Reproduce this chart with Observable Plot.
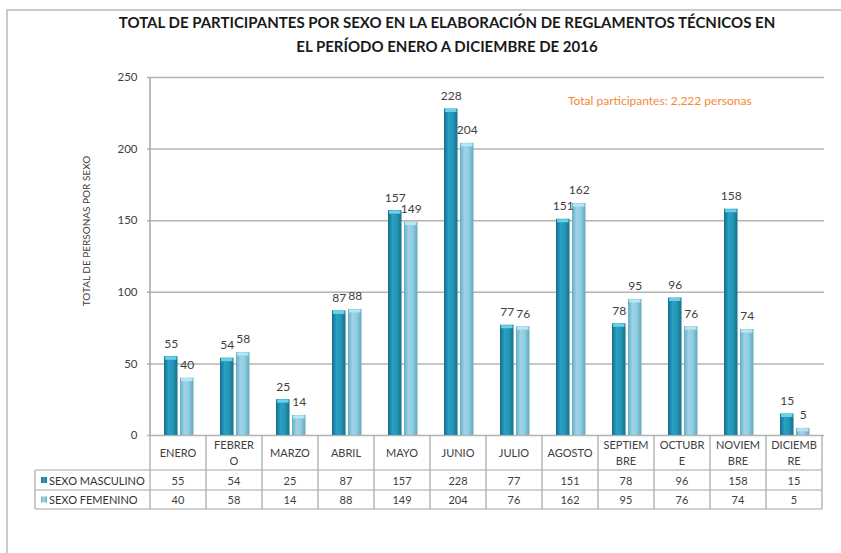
<!DOCTYPE html>
<html><head><meta charset="utf-8">
<script src="https://cdn.jsdelivr.net/npm/d3@7"></script>
<script src="https://cdn.jsdelivr.net/npm/@observablehq/plot@0.6"></script>
<style>
body{margin:0;background:#fff;}
#wrap{position:relative;width:841px;height:553px;overflow:hidden;background:#fff;}
#border{position:absolute;left:6px;top:9px;width:900px;height:600px;border-top:2px solid #cacaca;border-left:2px solid #cacaca;}
#wrap svg{position:absolute;left:0;top:0;}
</style></head><body><div id="wrap"><div id="border"></div></div>
<script>
const months = ["ENERO","FEBRERO","MARZO","ABRIL","MAYO","JUNIO","JULIO","AGOSTO","SEPTIEMBRE","OCTUBRE","NOVIEMBRE","DICIEMBRE"];
const monthLines = [["ENERO"],["FEBRER","O"],["MARZO"],["ABRIL"],["MAYO"],["JUNIO"],["JULIO"],["AGOSTO"],["SEPTIEM","BRE"],["OCTUBR","E"],["NOVIEM","BRE"],["DICIEMB","RE"]];
const masculino = [55,54,25,87,157,228,77,151,78,96,158,15];
const femenino = [40,58,14,88,149,204,76,162,95,76,74,5];
const seriesNames = ["SEXO MASCULINO","SEXO FEMENINO"];
const yTicks = [0,50,100,150,200,250];
const titleLines = ["TOTAL DE PARTICIPANTES POR SEXO EN LA ELABORACIÓN DE REGLAMENTOS TÉCNICOS EN","EL PERÍODO ENERO A DICIEMBRE DE 2016"];
const yLabel = "TOTAL DE PERSONAS POR SEXO";
const note = "Total participantes: 2,222 personas";

const rows = months.map((m, i) => ({month: m, masc: masculino[i], fem: femenino[i]}));
const font = "Lato, 'Open Sans', sans-serif";
const txt = "#404040";

const plot = Plot.plot({
  width: 841, height: 553,
  marginTop: 77, marginBottom: 118, marginLeft: 147, marginRight: 17,
  style: {fontFamily: font, background: "transparent", color: txt, overflow: "visible"},
  x: {domain: months, padding: 0, axis: null},
  y: {domain: [0, 250], ticks: yTicks, tickSize: 0, tickPadding: 10, label: null, tickFormat: d => String(d)},
  marks: [
    Plot.ruleY(yTicks, {stroke: "#b4b4b4", strokeWidth: 1.5}),
    Plot.barY(rows, {x: "month", y: "masc", fill: "url(#gm)", insetLeft: 14, insetRight: 28.5}),
    Plot.barY(rows, {x: "month", y: "fem", fill: "url(#gf)", insetLeft: 30, insetRight: 12.5}),
    Plot.tickY(rows, {x: "month", y: "masc", stroke: "#6ad2e8", strokeWidth: 3, insetLeft: 15, insetRight: 29.5, dy: 1.5}),
    Plot.tickY(rows, {x: "month", y: "fem", stroke: "#b6e6f2", strokeWidth: 3, insetLeft: 31, insetRight: 13.5, dy: 1.5}),
    Plot.text(rows, {x: "month", y: "masc", text: d => String(d.masc), dx: -7.2, dy: -13, fontSize: 12, fill: txt}),
    Plot.text(rows, {x: "month", y: "fem", text: d => String(d.fem), dx: 8.8, dy: -13, fontSize: 12, fill: txt})
  ]
});

const wrap = document.getElementById("wrap");
wrap.appendChild(plot);
const svg = d3.select(plot);
svg.attr("font-size", 11.5);

// gradients
const defs = svg.insert("defs", ":first-child");
const gm = defs.append("linearGradient").attr("id", "gm").attr("x1", 0).attr("x2", 1).attr("y1", 0).attr("y2", 0);
[["0%", "#136f8c"], ["35%", "#28a2c4"], ["65%", "#2596b7"], ["100%", "#136f8c"]].forEach(([o, c]) => gm.append("stop").attr("offset", o).attr("stop-color", c));
const gf = defs.append("linearGradient").attr("id", "gf").attr("x1", 0).attr("x2", 1).attr("y1", 0).attr("y2", 0);
[["0%", "#66acc5"], ["35%", "#9dd5e8"], ["65%", "#90cbe0"], ["100%", "#65a8c0"]].forEach(([o, c]) => gf.append("stop").attr("offset", o).attr("stop-color", c));

const x = plot.scale("x");
const y = plot.scale("y");
const bw = x.bandwidth;
const x0 = x.apply(months[0]);
const x1 = x.apply(months[months.length - 1]) + bw;
const y0 = y.apply(0);
const yTop = y.apply(250);
const g = svg.append("g").attr("font-family", font).attr("text-anchor", "start");
const lineC = "#a6a6a6";

// left axis line
g.append("line").attr("x1", x0).attr("x2", x0).attr("y1", yTop).attr("y2", y0).attr("stroke", lineC).attr("stroke-width", 1.5);

// title
titleLines.forEach((t, i) => g.append("text").attr("x", 447).attr("y", 22 + i * 24).attr("text-anchor", "middle")
  .attr("dominant-baseline", "central").attr("font-weight", "bold").attr("font-size", 15).attr("fill", "#1a1a1a").text(t));

// y label
g.append("text").attr("transform", `translate(86,${231}) rotate(-90)`).attr("text-anchor", "middle")
  .attr("dominant-baseline", "central").attr("font-size", 10).attr("fill", txt).text(yLabel);

// note
g.append("text").attr("x", 568).attr("y", 100).attr("text-anchor", "start").attr("dominant-baseline", "central").attr("font-size", 12)
  .attr("fill", "#f28a3a").text(note);

// table
const rCat = 470, rM = 490, rF = 509, lx = 35;
const hl = (yy, xa) => g.append("line").attr("x1", xa).attr("x2", x1).attr("y1", yy).attr("y2", yy).attr("stroke", lineC).attr("stroke-width", 1.2);
hl(rCat, lx); hl(rM, lx); hl(rF, lx);
g.append("line").attr("x1", lx).attr("x2", lx).attr("y1", rCat).attr("y2", rF).attr("stroke", lineC).attr("stroke-width", 1.2);
months.forEach((m, i) => {
  const xs = x.apply(m);
  g.append("line").attr("x1", xs).attr("x2", xs).attr("y1", y0).attr("y2", rF).attr("stroke", lineC).attr("stroke-width", 1.2);
  const cx = xs + bw / 2;
  const ls = monthLines[i];
  ls.forEach((l, j) => g.append("text").attr("x", cx).attr("y", ls.length === 1 ? 452 : 444 + j * 16)
    .attr("text-anchor", "middle").attr("dominant-baseline", "central").attr("font-size", 11).attr("fill", txt).text(l));
  g.append("text").attr("x", cx).attr("y", (rCat + rM) / 2).attr("text-anchor", "middle").attr("dominant-baseline", "central")
    .attr("font-size", 11).attr("fill", txt).text(String(masculino[i]));
  g.append("text").attr("x", cx).attr("y", (rM + rF) / 2).attr("text-anchor", "middle").attr("dominant-baseline", "central")
    .attr("font-size", 11).attr("fill", txt).text(String(femenino[i]));
});
g.append("line").attr("x1", x1).attr("x2", x1).attr("y1", y0).attr("y2", rF).attr("stroke", lineC).attr("stroke-width", 1.2);
// legend keys
seriesNames.forEach((s, i) => {
  const cy = i === 0 ? (rCat + rM) / 2 : (rM + rF) / 2;
  g.append("rect").attr("x", 41).attr("y", cy - 3).attr("width", 6).attr("height", 6).attr("fill", i === 0 ? "url(#gm)" : "url(#gf)");
  g.append("text").attr("x", 49).attr("y", cy).attr("text-anchor", "start").attr("dominant-baseline", "central").attr("font-size", 11).attr("fill", "#333").text(s);
});
</script></body></html>
